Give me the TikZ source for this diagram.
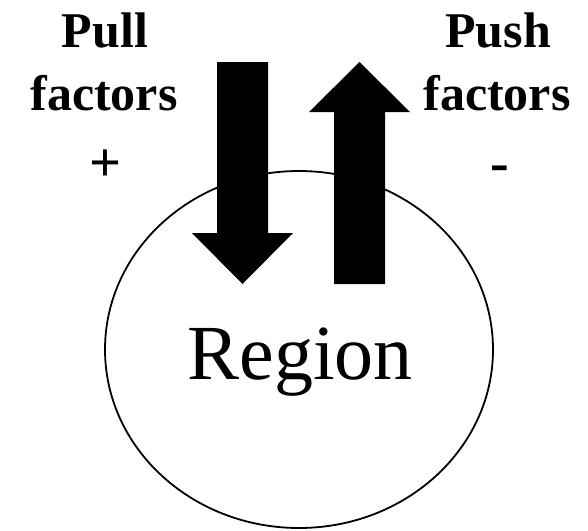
\documentclass[tikz,border=0pt]{standalone}
\usepackage{fontspec}
\setmainfont{Liberation Serif}
\begin{document}
\begin{tikzpicture}[x=1pt,y=-1pt,
  label/.style={font=\fontsize{50}{50}\selectfont\bfseries, anchor=base, inner sep=0pt},
  sign/.style={font=\fontsize{56}{56}\selectfont\bfseries, anchor=base, inner sep=0pt},
  blockarrow/.style={fill=black, draw=none}]
\useasboundingbox (0,0) rectangle (588,530);
% region outline
\draw[line width=1.8pt] (299,349.5) ellipse [x radius=194, y radius=178.5];
\node[anchor=base, inner sep=0pt, font=\fontsize{78}{78}\selectfont] (region) at (300,379) {Region};
% inward flow (pull)
\fill[blockarrow] (217,62) -- (268,62) -- (268,233) -- (293,233) -- (242.5,284) -- (192,233) -- (217,233) -- cycle;
% outward flow (push)
\fill[blockarrow] (334,284) -- (385,284) -- (385,112) -- (410,112) -- (359.5,62) -- (309,112) -- (334,112) -- cycle;
% labels
\node[label] (pull) at (105,47) {Pull};
\node[label] (pullf) at (104,110) {factors};
\node[sign] (plus) at (105,181) {+};
\node[label] (push) at (498,47) {Push};
\node[label] (pushf) at (497,110) {factors};
\node[sign] (minus) at (500,181) {-};
\end{tikzpicture}
\end{document}
